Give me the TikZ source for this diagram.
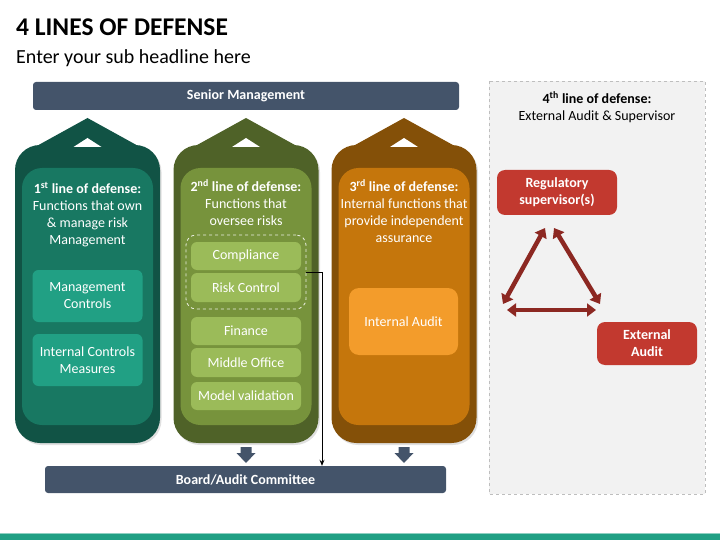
\documentclass[tikz,border=0pt]{standalone}
\usepackage{fontspec}
\setmainfont{Carlito}
\usetikzlibrary{arrows.meta}
\definecolor{slate}{RGB}{68,84,106}
\definecolor{cOa}{RGB}{17,83,69}
\definecolor{cIa}{RGB}{24,120,98}
\definecolor{cBa}{RGB}{33,160,132}
\definecolor{cOb}{RGB}{79,98,40}
\definecolor{cIb}{RGB}{119,147,60}
\definecolor{cBb}{RGB}{155,187,89}
\definecolor{cOc}{RGB}{132,80,8}
\definecolor{cIc}{RGB}{197,118,12}
\definecolor{cBc}{RGB}{243,156,43}
\definecolor{redbox}{RGB}{194,57,47}
\definecolor{redarrow}{RGB}{140,40,34}
\definecolor{panel}{RGB}{242,242,242}
\definecolor{panelline}{RGB}{190,190,190}
\begin{document}
\begin{tikzpicture}[x=1pt,y=-1pt,
  bar/.style={fill=slate,rounded corners=3pt,text=white,inner sep=0,
    font=\fontsize{14}{17}\selectfont\bfseries},
  itembox/.style={rounded corners=6pt,text=white,align=center,inner sep=0,
    font=\fontsize{14}{17}\selectfont},
  coltext/.style={text=white,align=center,inner sep=0,anchor=north,
    font=\fontsize{14}{17}\selectfont},
  redbx/.style={fill=redbox,rounded corners=8pt,text=white,align=center,inner sep=0,
    font=\fontsize{14}{17}\selectfont\bfseries},
  tri/.style={draw=redarrow,line width=4.5pt,
    {Triangle[length=9pt,width=13pt]}-{Triangle[length=9pt,width=13pt]}}
]
\useasboundingbox (0,0) rectangle (720,540);

% title
\node[anchor=base west,inner sep=0,font=\fontsize{25.5}{30}\selectfont\bfseries] (title) at (16,36) {4 LINES OF DEFENSE};
\node[anchor=base west,inner sep=0,font=\fontsize{20}{24}\selectfont] (subtitle) at (16,64) {Enter your sub headline here};

% columns
\foreach \cx/\co/\ci in {87.5/cOa/cIa, 246/cOb/cIb, 404/cOc/cIc}{
  \begin{scope}[shift={(1.5,2)}]
    \fill[black,opacity=0.12,rounded corners=25pt] (\cx-72.5,145) rectangle (\cx+72.5,443);
    \fill[black,opacity=0.12] (\cx,118) -- (\cx-58,150) -- (\cx+58,150) -- cycle;
  \end{scope}
  \fill[\co,rounded corners=25pt] (\cx-72.5,145) rectangle (\cx+72.5,443);
  \fill[\co] (\cx,118) -- (\cx-58,150) -- (\cx+58,150) -- cycle;
  \fill[white] (\cx,138) -- (\cx-14,147) -- (\cx+14,147) -- cycle;
  \fill[\ci,rounded corners=20pt] (\cx-65.5,168) rectangle (\cx+65.5,425);
}

% bars
\node[bar,minimum width=426pt,minimum height=28pt] (senior) at (246,96) {Senior Management};
\node[bar,minimum width=401pt,minimum height=27pt] (board) at (245.5,479.5) {Board/Audit Committee};

% column texts
\node[coltext] (t1) at (87.5,182) {\textbf{1\textsuperscript{st} line of defense:}\\Functions that own\\\& manage risk\\Management};
\node[coltext] (t2) at (246,179) {\textbf{2\textsuperscript{nd} line of defense:}\\Functions that\\oversee risks};
\node[coltext] (t3) at (404,179.5) {\textbf{3\textsuperscript{rd} line of defense:}\\Internal functions that\\provide independent\\assurance};

% column 1 boxes
\node[itembox,fill=cBa,minimum width=110pt,minimum height=52pt] (mc) at (87.5,296) {Management\\Controls};
\node[itembox,fill=cBa,minimum width=110pt,minimum height=52pt] (icm) at (87.5,360) {Internal Controls\\Measures};

% column 2 boxes
\node[itembox,fill=cBb,minimum width=110pt,minimum height=28pt] (comp) at (246,256) {Compliance};
\node[itembox,fill=cBb,minimum width=110pt,minimum height=29pt] (risk) at (246,287.5) {Risk Control};
\node[itembox,fill=cBb,minimum width=110pt,minimum height=28pt] (fin) at (246,331) {Finance};
\node[itembox,fill=cBb,minimum width=110pt,minimum height=29pt] (mid) at (246,362.5) {Middle Office};
\node[itembox,fill=cBb,minimum width=110pt,minimum height=28pt] (model) at (246,396) {Model validation};
\node[draw=white!85!cIb,dashed,line width=0.8pt,rounded corners=10pt,minimum width=120pt,minimum height=74pt,inner sep=0] (dashbox) at (246,272) {};

% column 3 box
\node[itembox,fill=cBc,rounded corners=10pt,minimum width=109pt,minimum height=67pt] (ia) at (403.5,321.5) {Internal Audit};

% connector
\coordinate (turn) at (322,272);
\draw[line width=1pt,-{Stealth[length=6pt,width=5pt]}] (dashbox.east) -- (turn) -- (turn |- board.north);

% block arrows
\foreach \ax in {246,404}{
  \fill[slate] (\ax-5.5,447) -- (\ax+5.5,447) -- (\ax+5.5,453) -- (\ax+9.5,453) -- (\ax,463) -- (\ax-9.5,453) -- (\ax-5.5,453) -- cycle;
}

% right panel
\fill[panel] (489,81) rectangle (705,494);
\draw[panelline,dashed,line width=0.8pt] (489,81) rectangle (705,494);
\node[anchor=north,align=center,inner sep=0,font=\fontsize{14}{17}\selectfont] (t4) at (597,91.5) {\textbf{4\textsuperscript{th} line of defense:}\\External Audit \& Supervisor};
\node[redbx,minimum width=120pt,minimum height=45pt] (reg) at (557,192.5) {Regulatory\\supervisor(s)};
\node[redbx,minimum width=100pt,minimum height=43pt] (ext) at (647,343.5) {External\\Audit};

\coordinate (ta) at (545,228);
\coordinate (tb) at (554,228);
\coordinate (tl) at (503,304);
\coordinate (tr) at (600,304);
\coordinate (bl) at (507,310);
\coordinate (br) at (596,310);
\draw[tri] (ta) -- (tl);
\draw[tri] (tb) -- (tr);
\draw[tri] (bl) -- (br);

% bottom strip
\fill[cBa!50!white] (0,532.5) rectangle (720,534);
\fill[cBa] (0,534) rectangle (720,540);
\end{tikzpicture}
\end{document}
